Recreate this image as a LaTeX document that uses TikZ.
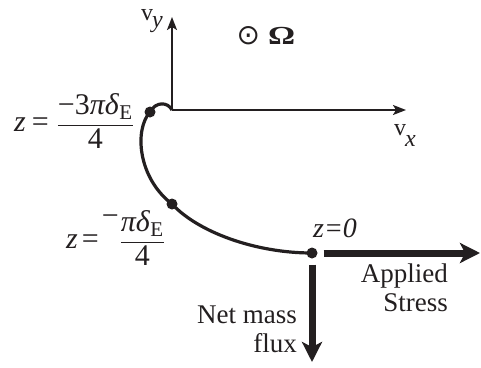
\documentclass[tikz,border=0pt]{standalone}
\usepackage{amsmath}
\usepackage{fontspec}
\setmainfont{Liberation Serif}
\newfontfamily\dejavu{DejaVu Sans}
\usepackage{tikz}
\usetikzlibrary{positioning,arrows.meta}
\definecolor{ink}{HTML}{231F20}
\tikzset{
  ax/.style={-{Stealth[length=13pt,width=10pt,inset=3pt]}, line width=1.8pt, color=ink},
  curve/.style={line width=3.2pt, color=ink},
  dot/.style={circle, fill=ink, inner sep=0pt, minimum size=11pt},
  big/.style={-{Stealth[length=20pt,width=20pt,inset=5pt]}, line width=7pt, color=ink},
  lbl/.style={text=ink, inner sep=0pt, align=right, font=\fontsize{27}{29}\selectfont},
  frc/.style={text=ink, inner sep=0pt, font=\fontsize{30}{32}\selectfont},
  sym/.style={text=ink, inner sep=0pt, font=\fontsize{24}{24}\selectfont},
}

\begin{document}
\begin{tikzpicture}[x=1pt, y=-1pt]
  \useasboundingbox (0,0) rectangle (481,367);
  % axes
  \coordinate (O) at (172,110);
  \coordinate (vytip) at (172,17);
  \coordinate (vxtip) at (406,110);
  \draw[ax] (O) -- (vytip);
  \draw[ax] (O) -- (vxtip);
  \node[sym, anchor=base west] (vylab) at (141,20) {v\kern-1pt\raisebox{-7pt}{\textit{y}}};
  \node[sym, anchor=base west] (vxlab) at (394,135) {v\kern-1pt\raisebox{-11pt}{\textit{x}}};
  \node[sym] (omega) at (266,36)
    {{\dejavu\fontsize{28}{28}\selectfont ⊙}\hspace{8pt}\scalebox{1.3}[1]{\fontsize{26}{26}\selectfont\textbf{Ω}}};
  % points on the spiral
  \node[dot] (top)  at (150,112) {};
  \node[dot] (mid)  at (172,204) {};
  \node[dot] (zero) at (312,253) {};
  \draw[curve] (O) .. controls (168,102) and (156,101) .. (top.center)
               .. controls (134,130) and (138,178) .. (mid.center)
               .. controls (198,232) and (255,253) .. (zero.center);
  \node[frc, anchor=east] (toplab) at (134,121)
    {\textit{z}\hspace{6pt}=\hspace{8pt}$\dfrac{\text{−3\textit{πδ}\textsubscript{E}}}{\text{4}}$};
  \node[frc, anchor=east] (midlab) at (165,238)
    {\textit{z}\hspace{4pt}=\hspace{3pt}\raisebox{0.75em}{−}\hspace{1pt}$\dfrac{\text{\textit{πδ}\textsubscript{E}}}{\text{4}}$};
  \node[lbl, anchor=base, font=\fontsize{28}{30}\selectfont] (zerolab) at (335,237) {\textit{z=0}};
  % stress and flux
  \coordinate (stresstip) at (480,253);
  \coordinate (fluxtip) at (312,362);
  \draw[big, shorten <=6pt] (zero.east) -- (stresstip);
  \draw[big, shorten <=6pt] (zero.south) -- (fluxtip);
  \node[lbl, anchor=east] (stresslab) at (448,288) {Applied\\Stress};
  \node[lbl, anchor=east] (fluxlab) at (297,329) {Net mass\\flux};
\end{tikzpicture}
\end{document}
